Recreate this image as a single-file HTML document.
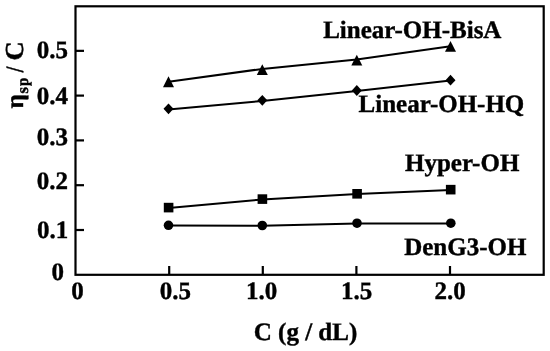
<!DOCTYPE html>
<html>
<head>
<meta charset="utf-8">
<style>
html,body{margin:0;padding:0;background:#fff;}
body{width:550px;height:351px;overflow:hidden;}
svg{display:block;filter:grayscale(1) blur(0.3px);}
text{font-family:"Liberation Serif",serif;font-weight:bold;fill:#000;text-rendering:geometricPrecision;stroke:#000;stroke-width:0.4px;}
</style>
</head>
<body>
<svg width="550" height="351" viewBox="0 0 550 351">
<rect x="0" y="0" width="550" height="351" fill="#fff"/>
<!-- frame -->
<rect x="75.5" y="6.3" width="468.2" height="268.5" fill="none" stroke="#000" stroke-width="2.2"/>
<!-- x ticks -->
<g stroke="#000" stroke-width="2.2">
<line x1="169.2" y1="266" x2="169.2" y2="274.5"/>
<line x1="262.8" y1="266" x2="262.8" y2="274.5"/>
<line x1="356.4" y1="266" x2="356.4" y2="274.5"/>
<line x1="450" y1="266" x2="450" y2="274.5"/>
<!-- y ticks -->
<line x1="75.5" y1="50.85" x2="84" y2="50.85"/>
<line x1="75.5" y1="95.6" x2="84" y2="95.6"/>
<line x1="75.5" y1="140.4" x2="84" y2="140.4"/>
<line x1="75.5" y1="185.2" x2="84" y2="185.2"/>
<line x1="75.5" y1="230" x2="84" y2="230"/>
</g>
<!-- data lines -->
<g fill="none" stroke="#000" stroke-width="2">
<polyline points="168.6,81.8 262.3,68.9 356.8,59.6 450.5,46.2"/>
<polyline points="168.5,109.4 262.3,100.9 356.8,91.1 450.5,80.5"/>
<polyline points="168.6,207.9 262.4,199.4 357.1,194.1 450.7,189.95"/>
<polyline points="168.5,225.6 262.3,225.8 357,223.5 450.8,223.5"/>
</g>
<!-- markers -->
<g fill="#000">
<polygon points="168.5,76.3 174,87.3 163,87.3"/>
<polygon points="262.3,64.3 267.8,75.1 256.8,75.1"/>
<polygon points="356.8,54.7 362.3,65.4 351.3,65.4"/>
<polygon points="450.5,41.1 456,51.8 445,51.8"/>

<polygon points="168.5,103.4 173.5,108.8 168.5,114.2 163.5,108.8"/>
<polygon points="262.3,94.9 267.3,100.3 262.3,105.7 257.3,100.3"/>
<polygon points="356.8,85.1 361.8,90.5 356.8,95.9 351.8,90.5"/>
<polygon points="450.5,74.75 455.5,80.15 450.5,85.55 445.5,80.15"/>

<rect x="163.8" y="202.8" width="9.6" height="9.6"/>
<rect x="257.6" y="194.3" width="9.6" height="9.6"/>
<rect x="352.3" y="189" width="9.6" height="9.6"/>
<rect x="445.9" y="184.85" width="9.6" height="9.6"/>

<circle cx="168.5" cy="225.3" r="4.8"/>
<circle cx="262.3" cy="225.5" r="4.8"/>
<circle cx="357" cy="223.2" r="4.8"/>
<circle cx="450.8" cy="223.2" r="4.8"/>
</g>
<!-- series labels -->
<g font-size="25">
<text x="323.2" y="38.3">Linear-OH-BisA</text>
<text x="358.6" y="112">Linear-OH-HQ</text>
<text x="405" y="170.8">Hyper-OH</text>
<text x="404.2" y="255.3">DenG3-OH</text>
</g>
<!-- y tick labels -->
<g font-size="25">
<text x="36.7" y="57.9">0.5</text>
<text x="36.8" y="103.5">0.4</text>
<text x="36.7" y="145">0.3</text>
<text x="36.7" y="189.2">0.2</text>
<text x="36.9" y="237.5">0.1</text>
<text x="51.6" y="280.4">0</text>
</g>
<!-- x tick labels -->
<g font-size="25">
<text x="71.3" y="299.1">0</text>
<text x="159.8" y="299.1">0.5</text>
<text x="246" y="299.1">1.0</text>
<text x="341" y="299.1">1.5</text>
<text x="434.5" y="299.1">2.0</text>
</g>
<!-- x axis title -->
<text x="253.8" y="340.2" font-size="25">C (g / dL)</text>
<!-- y axis title -->
<text transform="translate(22.7,108.6) rotate(-90)" font-size="25">η</text>
<text transform="translate(28.4,93.6) rotate(-90)" font-size="16.5">s</text>
<text transform="translate(28.4,85.9) rotate(-90) scale(0.9,1)" font-size="16.5">p</text>
<text transform="translate(22.6,72.3) rotate(-90) scale(0.8,1)" font-size="25">/</text>
<text transform="translate(23.2,60.6) rotate(-90) scale(1.06,1.04)" font-size="25">C</text>
</svg>
</body>
</html>
